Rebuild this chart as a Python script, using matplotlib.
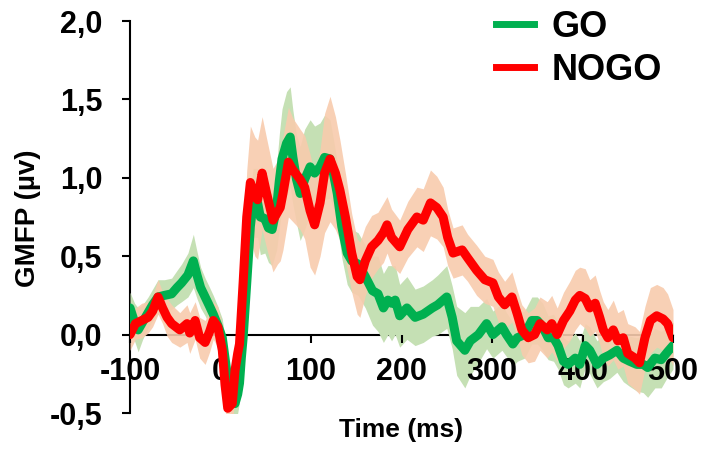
import matplotlib
matplotlib.use("Agg")
import matplotlib.pyplot as plt
from matplotlib.lines import Line2D
from matplotlib.ticker import FuncFormatter, MultipleLocator
import numpy as np

plt.rcParams["font.family"] = ["Liberation Sans", "DejaVu Sans"]
plt.rcParams["font.weight"] = "bold"

# ---------- data ----------
go_t = [-100, -95, -91, -86, -80, -75, -69, -62, -54, -48, -43, -36, -30, -26, -22, -17, -12, -8, -3,
        2, 5, 8, 12, 16, 19, 21, 23, 25, 29, 33, 36, 41, 44, 49, 53, 57, 62, 65, 68, 73, 77, 80, 84,
        88, 93, 99, 104, 110, 115, 121, 125, 129, 134, 140, 145, 152, 160, 168, 174, 180, 185, 189,
        193, 198, 206, 215, 224, 234, 240, 250, 256, 261, 270, 276, 285, 294, 301, 311, 316, 323,
        328, 336, 344, 350, 356, 362, 368, 373, 379, 384, 392, 397, 403, 408, 416, 423, 430, 438,
        445, 452, 460, 467, 472, 480, 487, 494, 500]
go_v = [0.17, 0.08, 0.03, 0.08, 0.14, 0.19, 0.24, 0.25, 0.26, 0.30, 0.33, 0.38, 0.47, 0.38, 0.30,
        0.24, 0.18, 0.13, 0.06, -0.02, -0.15, -0.28, -0.40, -0.44, -0.38, -0.31, -0.15, -0.02, 0.33,
        0.69, 0.84, 0.84, 0.75, 0.74, 0.68, 0.67, 0.81, 0.98, 1.12, 1.22, 1.26, 1.13, 0.99, 0.90,
        0.99, 1.07, 1.03, 1.07, 1.13, 1.12, 1.02, 0.90, 0.69, 0.52, 0.47, 0.45, 0.37, 0.28, 0.26,
        0.17, 0.22, 0.20, 0.22, 0.12, 0.17, 0.11, 0.13, 0.17, 0.19, 0.24, 0.11, -0.04, -0.10, -0.04,
        0.00, 0.07, 0.00, 0.05, 0.00, -0.06, -0.02, 0.00, 0.09, 0.09, 0.05, -0.02, -0.02, -0.07,
        -0.17, -0.19, -0.15, -0.19, -0.07, -0.10, -0.19, -0.15, -0.13, -0.10, -0.15, -0.17, -0.19,
        -0.19, -0.21, -0.15, -0.16, -0.11, -0.07]
go_sem = [0.10, 0.12, 0.14, 0.11, 0.10, 0.10, 0.11, 0.10, 0.10, 0.11, 0.12, 0.14, 0.17, 0.15, 0.13,
          0.12, 0.12, 0.12, 0.12, 0.12, 0.12, 0.12, 0.12, 0.12, 0.12, 0.12, 0.12, 0.12, 0.18,
          0.20, 0.22, 0.22, 0.24, 0.22, 0.22, 0.23, 0.27, 0.30, 0.32, 0.33, 0.32, 0.30, 0.28, 0.30,
          0.32, 0.30, 0.30, 0.28, 0.27, 0.25, 0.22, 0.20, 0.20, 0.20, 0.20, 0.20, 0.20, 0.22, 0.24,
          0.22, 0.22, 0.24, 0.22, 0.20, 0.20, 0.18, 0.18, 0.18, 0.19, 0.20, 0.20, 0.22, 0.24, 0.22,
          0.18, 0.16, 0.15, 0.15, 0.14, 0.14, 0.15, 0.15, 0.15, 0.15, 0.15, 0.14, 0.15, 0.15,
          0.15, 0.15, 0.16, 0.15, 0.14, 0.15, 0.15, 0.15, 0.15, 0.14, 0.15, 0.16, 0.17,
          0.18, 0.19, 0.19, 0.18, 0.16, 0.15]

nogo_t = [-100, -94, -87, -80, -75, -69, -64, -59, -54, -45, -37, -34, -28, -23, -17, -12, -8, -3,
          2, 5, 8, 13, 16, 19, 21, 25, 29, 33, 38, 41, 46, 51, 58, 63, 66, 69, 75, 80, 88, 93, 99,
          104, 110, 115, 121, 127, 132, 138, 145, 151, 154, 160, 167, 174, 180, 184, 189, 198, 207,
          217, 224, 232, 239, 246, 251, 257, 267, 273, 283, 292, 301, 307, 314, 322, 328, 333, 340,
          347, 353, 361, 366, 372, 379, 386, 392, 397, 403, 408, 414, 419, 423, 428, 434, 439, 445,
          450, 458, 463, 469, 475, 482, 489, 494, 500]
nogo_v = [0.00, 0.07, 0.09, 0.11, 0.15, 0.24, 0.17, 0.11, 0.07, 0.03, 0.07, 0.01, 0.09, -0.02, -0.05,
          0.02, 0.09, 0.05, -0.10, -0.32, -0.47, -0.44, -0.23, -0.12, -0.06, 0.33, 0.75, 0.97, 0.88,
          0.86, 1.03, 0.90, 0.73, 0.78, 0.81, 0.90, 1.10, 1.05, 0.99, 0.94, 0.79, 0.70, 0.84, 1.03,
          1.12, 1.03, 0.92, 0.75, 0.52, 0.37, 0.35, 0.47, 0.56, 0.60, 0.65, 0.70, 0.62, 0.56, 0.67,
          0.75, 0.73, 0.84, 0.81, 0.75, 0.62, 0.52, 0.54, 0.49, 0.41, 0.35, 0.33, 0.24, 0.19, 0.24,
          0.13, 0.03, -0.02, 0.00, 0.07, 0.03, 0.07, 0.00, 0.09, 0.15, 0.22, 0.25, 0.23, 0.17, 0.20,
          0.11, 0.03, -0.02, 0.03, -0.04, -0.02, -0.12, -0.15, -0.18, -0.02, 0.09, 0.12, 0.10, 0.07,
          -0.02]
nogo_sem = [0.10, 0.10, 0.11, 0.10, 0.10, 0.11, 0.10, 0.12, 0.12, 0.11, 0.12, 0.13, 0.12, 0.13, 0.14,
            0.13, 0.12, 0.13, 0.15, 0.15, 0.15, 0.15, 0.15, 0.15, 0.16, 0.22, 0.30, 0.36, 0.38,
            0.38, 0.36, 0.35, 0.33, 0.33, 0.34, 0.36, 0.35, 0.33, 0.32, 0.33, 0.36, 0.32, 0.34, 0.38,
            0.40, 0.36, 0.32, 0.28, 0.25, 0.24, 0.24, 0.22, 0.20, 0.18, 0.19, 0.18, 0.18, 0.17, 0.18,
            0.19, 0.20, 0.21, 0.20, 0.19, 0.18, 0.16, 0.16, 0.15, 0.16, 0.15, 0.15, 0.16, 0.15, 0.16,
            0.15, 0.16, 0.16, 0.17, 0.17, 0.18, 0.18, 0.17, 0.18, 0.19, 0.19, 0.18, 0.19, 0.18, 0.18,
            0.17, 0.18, 0.18, 0.19, 0.18, 0.18, 0.19, 0.20, 0.20, 0.20, 0.21, 0.20, 0.20, 0.19,
            0.18]

x_ticks = [-100, 0, 100, 200, 300, 400, 500]
labels = ["GO", "NOGO"]

GREEN = "#00B050"
RED = "#FF0000"
GREEN_FILL = "#C5E0B4"
RED_FILL = "#F8CBAD"

fig = plt.figure(figsize=(7.05, 4.53), dpi=100)
ax = fig.add_axes([130 / 705, 40 / 453, 543 / 705, 392 / 453])

go_t, go_v, go_sem = map(np.array, (go_t, go_v, go_sem))
nogo_t, nogo_v, nogo_sem = map(np.array, (nogo_t, nogo_v, nogo_sem))

ax.fill_between(go_t, go_v - go_sem, go_v + go_sem, color=GREEN_FILL, lw=0, zorder=3)
ax.fill_between(nogo_t, nogo_v - nogo_sem, nogo_v + nogo_sem, color=RED_FILL, lw=0, alpha=0.9, zorder=3)
ax.plot(go_t, go_v, color=GREEN, lw=6.5, solid_capstyle="round", solid_joinstyle="round", zorder=4)
ax.plot(nogo_t, nogo_v, color=RED, lw=6.5, solid_capstyle="round", solid_joinstyle="round", zorder=5)

ax.set_xlim(-100, 500)
ax.set_ylim(-0.5, 2.0)
ax.set_xticks(x_ticks)
ax.yaxis.set_major_locator(MultipleLocator(0.5))
ax.yaxis.set_major_formatter(FuncFormatter(lambda v, p: f"{v:.1f}".replace(".", ",")))
ax.xaxis.set_major_formatter(FuncFormatter(lambda v, p: str(int(round(v)))))

for s in ["top", "right"]:
    ax.spines[s].set_visible(False)
# x axis sits on y = 0, drawn under the shaded bands
ax.spines["bottom"].set_position(("data", 0))
for s in ["bottom", "left"]:
    ax.spines[s].set_linewidth(1.5)
    ax.spines[s].set_zorder(2)
ax.xaxis.set_zorder(3.5)

ax.tick_params(axis="y", direction="out", length=6, width=1.5, pad=14, labelsize=22)
ax.tick_params(axis="x", direction="out", length=6, width=1.5, pad=10, labelsize=22)
for lab in ax.get_xticklabels() + ax.get_yticklabels():
    lab.set_fontweight("bold")

ax.set_xlabel("Time (ms)", fontsize=19, fontweight="bold")
ax.xaxis.set_label_coords(0.5, -0.013)
ax.set_ylabel("GMFP (µv)", fontsize=20, fontweight="bold")
ax.yaxis.set_label_coords(-0.164, 0.496)

handles = [Line2D([], [], color=GREEN, lw=5), Line2D([], [], color=RED, lw=5)]
ax.legend(handles, labels, loc="upper left", bbox_to_anchor=(496 / 705, 1 - 10 / 453),
          bbox_transform=fig.transFigure, frameon=False, borderpad=0, borderaxespad=0,
          handlelength=1.05, handletextpad=0.5, labelspacing=0.21,
          prop={"weight": "bold", "size": 26})

fig.savefig("out.png", dpi=100)
